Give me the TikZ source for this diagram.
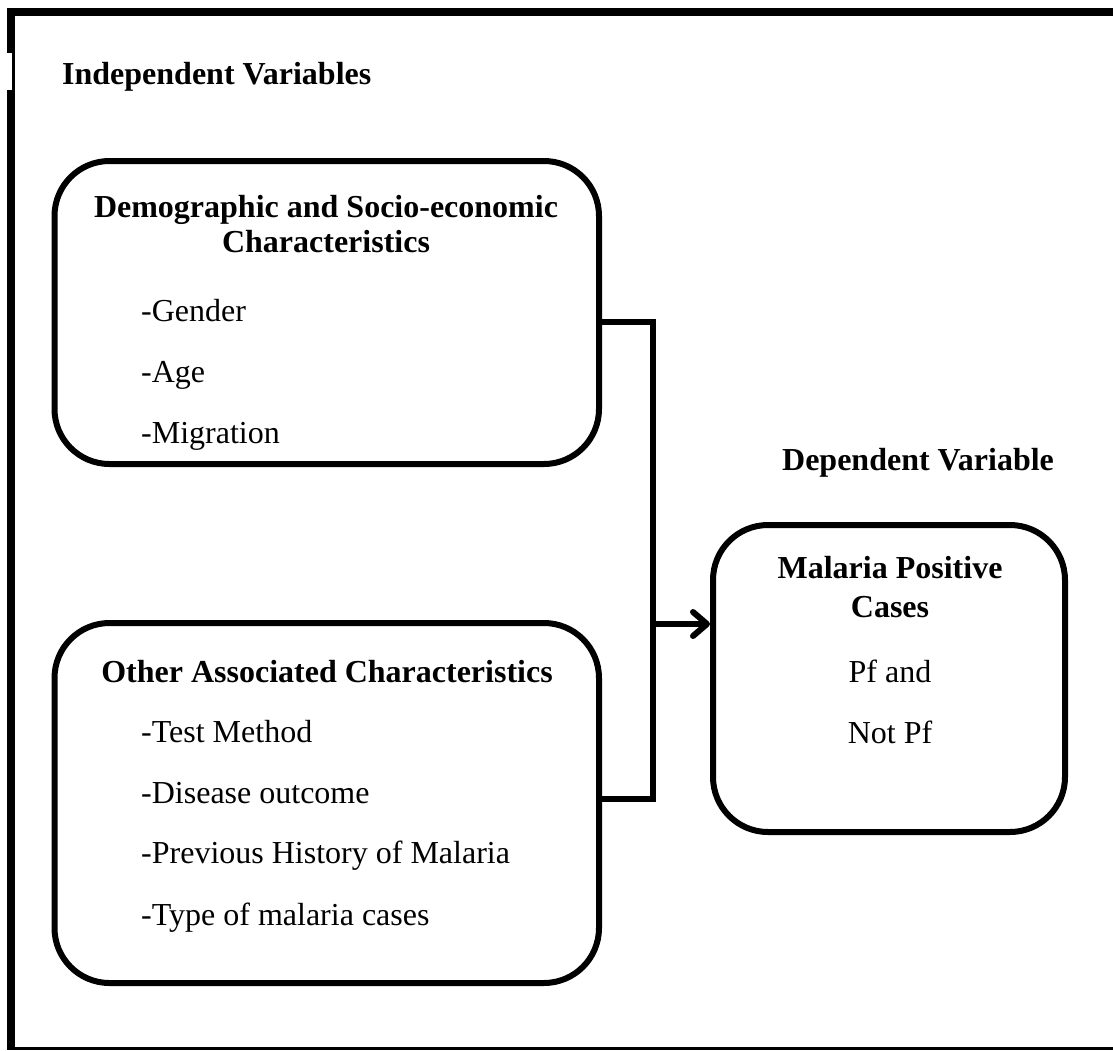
\documentclass[tikz,border=0pt]{standalone}
\usepackage{fontspec}
\setmainfont{Liberation Serif}
\usetikzlibrary{arrows.meta}
\begin{document}
\begin{tikzpicture}[x=1pt,y=-1pt,
 box/.style={draw, line width=6pt, rounded corners=55pt, inner sep=0pt},
 conn/.style={line width=6pt},
 hd/.style={font=\fontsize{32}{35}\selectfont\bfseries, inner sep=0pt, anchor=base},
 item/.style={font=\fontsize{32}{35}\selectfont, inner sep=0pt, anchor=base west},
 ctr/.style={font=\fontsize{32}{35}\selectfont, inner sep=0pt, anchor=base}]
\useasboundingbox (0,0) rectangle (1113,1050);
% outer frame
\fill (7,8) rectangle (1113,16);
\fill (7,8) rectangle (15,1050);
\fill (7,1047) rectangle (1113,1049.5);
\fill[white] (7,53) rectangle (12,90);
% boxes
\node[box, minimum width=544.5pt, minimum height=303pt] (b1) at (326.75,312.5) {};
\node[box, minimum width=544.5pt, minimum height=360pt] (b2) at (326.75,803) {};
\node[box, minimum width=352pt, minimum height=307pt] (b3) at (889,678.5) {};
% headings
\node[hd, anchor=base west] (iv) at (62,84) {Independent Variables};
\node[hd] (dv) at (918,470) {Dependent Variable};
% box 1 text
\node[hd] (t1a) at (326,217) {Demographic and Socio-economic};
\node[hd] (t1b) at (326,252) {Characteristics};
\node[item] (g) at (141,321) {-Gender};
\node[item] (a) at (141,382) {-Age};
\node[item] (m) at (141,443) {-Migration};
% box 2 text
\node[hd] (t2) at (327,682) {Other Associated Characteristics};
\node[item] (tm) at (141,742) {-Test Method};
\node[item] (do) at (141,803) {-Disease outcome};
\node[item] (ph) at (141,863) {-Previous History of Malaria};
\node[item] (ty) at (141,925) {-Type of malaria cases};
% box 3 text
\node[hd] (t3a) at (890,578) {Malaria Positive};
\node[hd] (t3b) at (890,617) {Cases};
\node[ctr] (pf) at (890,682) {Pf and};
\node[ctr] (npf) at (890,743) {Not Pf};
% connectors
\coordinate (j1) at (653,322);
\coordinate (j2) at (653,799);
\coordinate (j3) at (653,624);
\draw[conn] (b1.east |- j1) -- (j1) -- (j2) -- (b2.east |- j2);
\draw[conn, -{Straight Barb[length=14pt, width=24pt, round]}] (j3) -- (b3.west |- j3);
\end{tikzpicture}
\end{document}
